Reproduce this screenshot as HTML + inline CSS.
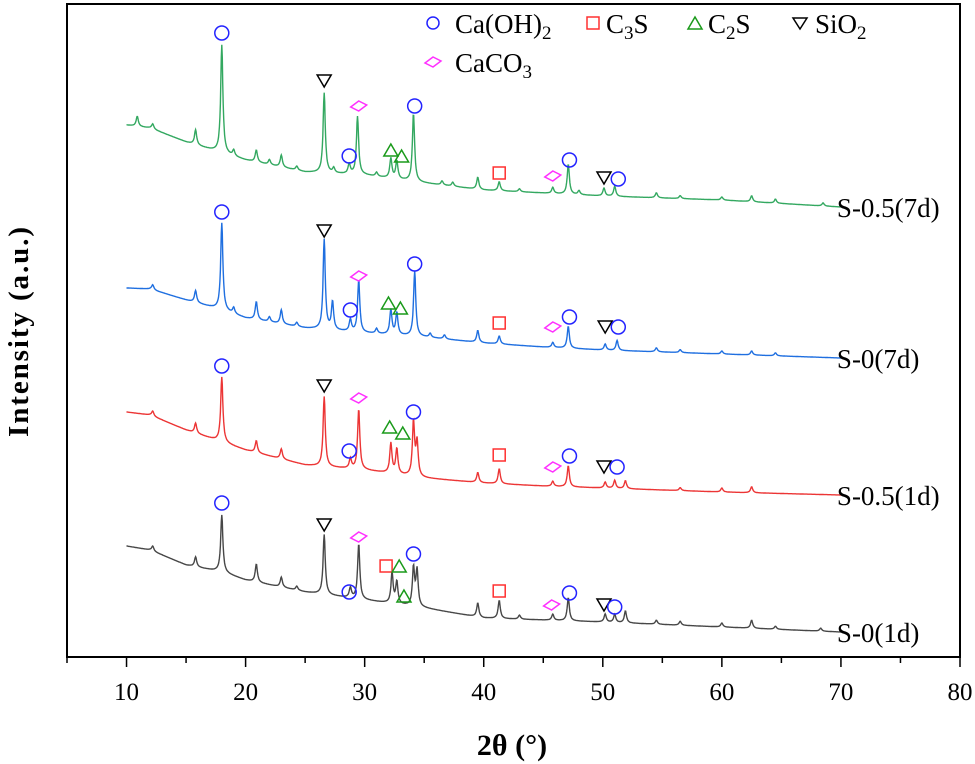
<!DOCTYPE html>
<html><head><meta charset="utf-8"><style>
html,body{margin:0;padding:0;background:#fff;}
svg{display:block;font-family:"Liberation Serif",serif;}
</style></head><body>
<svg id="chart" width="975" height="764" viewBox="0 0 975 764">
<rect x="67" y="4" width="893" height="653" fill="none" stroke="#000" stroke-width="2"/>
<g id="ticks"></g>
<g id="series"></g>
<g id="marks"></g>
<g font-size="27">
 <g><circle cx="433" cy="23" r="6" fill="none" stroke="#2323ff" stroke-width="1.5"/><text x="455" y="33">Ca(OH)<tspan font-size="19" dy="6">2</tspan></text></g>
 <g><rect x="587" y="17" width="12" height="12" fill="none" stroke="#ff3030" stroke-width="1.5"/><text x="606" y="33">C<tspan font-size="19" dy="6">3</tspan><tspan dy="-6">S</tspan></text></g>
 <g><polygon points="695,17 702,29 688,29" fill="none" stroke="#1a9a1a" stroke-width="1.5"/><text x="708" y="33">C<tspan font-size="19" dy="6">2</tspan><tspan dy="-6">S</tspan></text></g>
 <g><polygon points="793,18 807,18 800,29" fill="none" stroke="#000" stroke-width="1.5"/><text x="815" y="33">SiO<tspan font-size="19" dy="6">2</tspan></text></g>
 <g><polygon points="425,63 433,57 441,61 433,67" fill="none" stroke="#ff30ff" stroke-width="1.5"/><text x="455" y="72">CaCO<tspan font-size="19" dy="6">3</tspan></text></g>
</g>
<text x="512" y="755" text-anchor="middle" font-size="30" font-weight="bold">2θ (°)</text>
<text transform="translate(28,332) rotate(-90)" text-anchor="middle" font-size="29" font-weight="bold" textLength="210">Intensity (a.u.)</text>
</svg>
<script>
const NS="http://www.w3.org/2000/svg";
const xTicks=[10,20,30,40,50,60,70,80];
const seriesNames=["S-0.5(7d)","S-0(7d)","S-0.5(1d)","S-0(1d)"];
const seriesColors=["#33a860","#1f6fe0","#ec3535","#474747"];
const baseDeg=[10,12,15,18,20,25,30,35,40,45,50,60,70];
const baseGreen=[575,572,558,547,540,528,525,517,510,507,504,500,493];
const baseBlue=[412,411,400,390,382,372,367,363,357,353,350,346,342];
const baseRed=[288,285,270,258,250,235,230,222,217,214,212,208,205];
const baseBlack=[154,150,135,128,120,108,100,92,82,80,78,73,68];
const peaksGreen=[[10.9,10],[12.2,5],[15.8,15],[18.0,108],[19.0,6],[20.9,12],[22.0,5],[23.0,12],[24.3,4],[26.6,80],[27.4,5],[28.7,10],[29.4,58],[31.0,4],[32.2,20],[32.7,18],[34.1,68],[36.5,4],[37.4,4],[39.5,12],[41.3,9],[43.0,3],[45.8,6],[47.1,30],[48.0,4],[50.1,8],[51.0,10],[54.5,5],[56.5,3],[60.0,3],[62.5,6],[64.5,4],[68.5,3]];
const peaksBlue=[[12.2,5],[15.8,12],[18.0,87],[19.0,6],[20.9,18],[22.0,5],[23.0,14],[24.3,4],[26.6,90],[27.3,28],[28.8,12],[29.5,52],[31.0,5],[32.2,25],[32.7,22],[34.2,65],[35.5,4],[36.7,4],[39.5,12],[41.3,8],[45.8,5],[47.1,22],[50.2,6],[51.2,10],[54.5,4],[56.5,3],[60.0,3],[62.5,4],[64.5,3]];
const peaksRed=[[12.2,5],[15.8,10],[18.0,65],[20.9,12],[23.0,10],[26.6,70],[28.8,10],[29.5,60],[32.2,30],[32.7,25],[34.1,54],[34.4,34],[39.5,10],[41.3,15],[45.8,5],[47.1,21],[50.2,6],[51.0,8],[51.9,8],[56.5,3],[60,4],[62.5,6]];
const peaksBlack=[[12.2,5],[15.8,10],[18.0,57],[20.9,18],[23.0,10],[24.3,4],[26.6,60],[28.8,10],[29.5,55],[32.3,30],[32.7,22],[34.1,38],[34.4,36],[39.5,14],[41.3,18],[43,4],[45.8,6],[47.1,23],[50.2,8],[51.0,8],[51.9,12],[54.5,4],[56.5,4],[60,4],[62.5,8],[64.5,3],[68.3,3]];
const markGreen=[[18.0,667,"c"],[26.6,619,"v"],[29.5,594,"d"],[28.7,544,"c"],[32.2,550,"t"],[33.1,544,"t"],[34.2,594,"c"],[41.3,527,"s"],[45.8,524,"d"],[47.2,540,"c"],[50.1,522,"v"],[51.3,521,"c"]];
const markBlue=[[18.0,488,"c"],[26.6,469,"v"],[29.5,424,"d"],[28.8,390,"c"],[32.0,397,"t"],[33.0,392,"t"],[34.2,436,"c"],[41.3,377,"s"],[45.8,373,"d"],[47.2,383,"c"],[50.2,373,"v"],[51.3,373,"c"]];
const markRed=[[18.0,334,"c"],[26.6,314,"v"],[29.5,302,"d"],[28.7,249,"c"],[32.1,273,"t"],[33.2,267,"t"],[34.1,288,"c"],[41.3,245,"s"],[45.8,233,"d"],[47.2,244,"c"],[50.1,233,"v"],[51.2,233,"c"]];
const markBlack=[[18.0,197,"c"],[26.6,175,"v"],[29.5,163,"d"],[28.7,108,"c"],[31.8,134,"s"],[32.9,134,"t"],[33.3,104,"t"],[34.1,146,"c"],[41.3,109,"s"],[45.7,95,"d"],[47.2,107,"c"],[50.1,95,"v"],[51.0,93,"c"]];
const bases=[baseGreen,baseBlue,baseRed,baseBlack];
const peaks=[peaksGreen,peaksBlue,peaksRed,peaksBlack];
const marks=[markGreen,markBlue,markRed,markBlack];

function xs(d){return 67+(d-5)*(893/75);}
function ys(v){return 700-v;}
function baseAt(arr,d){for(let i=0;i<baseDeg.length-1;i++){if(d<=baseDeg[i+1]){const t=(d-baseDeg[i])/(baseDeg[i+1]-baseDeg[i]);return arr[i]+t*(arr[i+1]-arr[i]);}}return arr[arr.length-1];}

const tg=document.getElementById('ticks');
for(let d=5;d<=80;d+=5){
 const major=d%10===0;
 const l=document.createElementNS(NS,'line');
 l.setAttribute('x1',xs(d));l.setAttribute('x2',xs(d));l.setAttribute('y1',657);l.setAttribute('y2',657+(major?10:6));
 l.setAttribute('stroke','#000');l.setAttribute('stroke-width','1.5');
 
 
 tg.appendChild(l);
}
xTicks.forEach(d=>{
 const t=document.createElementNS(NS,'text');
 t.setAttribute('x',xs(d));t.setAttribute('y',700);t.setAttribute('text-anchor','middle');t.setAttribute('font-size','25');
 t.textContent=d;
 
 
 tg.appendChild(t);
});

const sg=document.getElementById('series');
bases.forEach((b,si)=>{
 let pts=[];
 for(let d=10;d<=70.001;d+=0.04){
  let v=baseAt(b,d);
  peaks[si].forEach(p=>{const g=0.11;v+=p[1]*g*g/((d-p[0])*(d-p[0])+g*g);});
  pts.push(xs(d).toFixed(1)+','+ys(v).toFixed(1));
 }
 const pl=document.createElementNS(NS,'polyline');
 pl.setAttribute('points',pts.join(' '));pl.setAttribute('fill','none');pl.setAttribute('stroke',seriesColors[si]);pl.setAttribute('stroke-width','1.4');
 
 
 sg.appendChild(pl);
 const lab=document.createElementNS(NS,'text');
 lab.setAttribute('x',xs(70)-4);lab.setAttribute('y',ys(b[b.length-1])+10);lab.setAttribute('font-size','27');
 lab.textContent=seriesNames[si];
 
 
 sg.appendChild(lab);
});

const mg=document.getElementById('marks');
marks.forEach(arr=>arr.forEach(m=>{
 const x=xs(m[0]),y=ys(m[1]);let el;
 if(m[2]==='c'){el=document.createElementNS(NS,'circle');el.setAttribute('cx',x);el.setAttribute('cy',y);el.setAttribute('r',7);el.setAttribute('stroke','#2323ff');}
 else if(m[2]==='s'){el=document.createElementNS(NS,'rect');el.setAttribute('x',x-6);el.setAttribute('y',y-6);el.setAttribute('width',12);el.setAttribute('height',12);el.setAttribute('stroke','#ff3030');}
 else if(m[2]==='t'){el=document.createElementNS(NS,'polygon');el.setAttribute('points',`${x},${y-6} ${x+7},${y+6} ${x-7},${y+6}`);el.setAttribute('stroke','#1a9a1a');}
 else if(m[2]==='v'){el=document.createElementNS(NS,'polygon');el.setAttribute('points',`${x-7},${y-6} ${x+7},${y-6} ${x},${y+6}`);el.setAttribute('stroke','#000');}
 else {el=document.createElementNS(NS,'polygon');el.setAttribute('points',`${x-8},${y+1} ${x},${y-5} ${x+8},${y-1} ${x},${y+5}`);el.setAttribute('stroke','#ff30ff');}
 el.setAttribute('fill','none');el.setAttribute('stroke-width','1.5');
 
 
 mg.appendChild(el);
}));
</script>
</body></html>
